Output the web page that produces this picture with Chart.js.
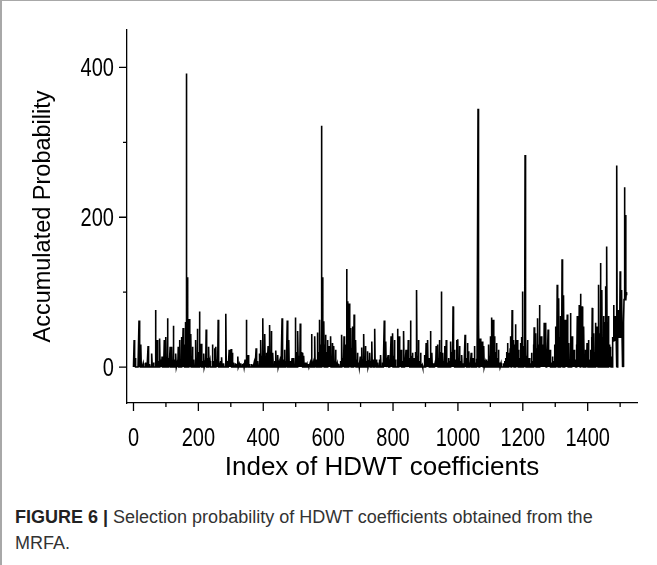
<!DOCTYPE html>
<html>
<head>
<meta charset="utf-8">
<script src="https://cdn.jsdelivr.net/npm/chart.js@4.4.1/dist/chart.umd.min.js"></script>
<style>
  html, body { margin: 0; padding: 0; background: #fff; }
  #frame {
    position: relative; width: 655px; height: 564px;
    border-left: 2px solid #a8a8a8; border-top: 1px solid #a8a8a8;
  }
  #chart { position: absolute; left: -2px; top: -1px; }
  #caption {
    position: absolute; left: 13px; top: 503px; width: 600px;
    font-family: 'Liberation Sans', Arial, sans-serif; font-size: 18px;
    line-height: 26px; color: #333;
  }
  #caption b { color: #222; }
</style>
</head>
<body>
<div id="frame">
  <canvas id="chart" width="657" height="490"></canvas>
  <div id="caption"><b>FIGURE 6 |</b> Selection probability of HDWT coefficients obtained from the MRFA.</div>
</div>
<script>
// axis ticks
const xMajor = [0, 200, 400, 600, 800, 1000, 1200, 1400];
const xMinor = [100, 300, 500, 700, 900, 1100, 1300, 1500];
const yMajor = [0, 200, 400];
const yMinor = [100, 300];

const seriesLength = 1521; // indices 0..1520, baseline 0

// spikes: coefficient index -> accumulated probability
const peakIdx = [
  2, 5, 17, 20, 23, 30, 38, 45, 50, 57, 62, 68, 73, 77, 81, 85, 88, 92, 95, 100,
  105, 109, 113, 118, 123, 127, 131, 135, 138, 143, 149, 153, 156, 160, 163, 165, 167, 170, 172, 175,
  177, 182, 186, 192, 197, 200, 203, 206, 209, 213, 217, 221, 224, 228, 232, 236,
  244, 247, 250, 254, 258, 261, 265, 268, 272, 278, 285, 290, 295, 298, 301, 305, 309, 314, 318, 322,
  326, 331, 336, 340, 344, 348, 353, 358, 365, 372, 378, 383, 389, 393, 396, 399, 402, 405, 410, 415,
  420, 423, 425, 430, 435, 439, 445, 449, 453, 458, 462, 465, 470, 474, 479, 484, 489,
  494, 499, 503, 507, 511, 514, 517, 520, 525, 530, 535, 540, 545, 549, 554, 559, 563, 567, 571, 574,
  577, 580, 582, 583, 585, 587, 590, 592, 595, 598, 600, 603, 606, 608, 611, 613, 616, 618, 621, 623,
  628, 633, 638, 642, 646, 649, 653, 657, 659, 660, 663, 665, 668, 670, 673, 675, 678, 680, 683, 685,
  688, 691, 695, 699, 704, 707, 710, 713, 715, 719, 722, 726, 729, 732, 735, 739, 744,
  748, 753, 758, 762, 767, 773, 776, 778, 782, 785, 790, 794, 797, 799, 802, 804, 808, 814, 817, 819,
  822, 825, 829, 833, 836, 840, 844, 847, 850, 854, 857, 860, 865, 870, 873, 876, 878, 882, 885, 890,
  897, 900, 902, 905, 907, 911, 915, 918, 920, 925, 930, 933, 936, 938, 941, 943, 946, 949, 952, 954,
  957, 959, 962, 964, 968, 972, 975, 978, 982, 985, 988, 990, 994, 997,
  1000, 1003, 1005, 1009, 1012, 1017, 1022, 1025, 1029, 1031, 1033, 1037, 1041, 1045, 1047, 1051, 1055, 1058, 1062, 1064,
  1066, 1069, 1072, 1075, 1077, 1080, 1084, 1088, 1092, 1095, 1098, 1100, 1102, 1104, 1107, 1109, 1111, 1113, 1116, 1119,
  1122, 1125, 1129, 1133, 1140, 1145, 1148, 1151, 1153, 1156, 1158, 1161, 1163, 1165, 1167, 1170, 1172, 1175, 1178, 1180,
  1183, 1185, 1187, 1190, 1193, 1196, 1199, 1202, 1204, 1207, 1209, 1212, 1215, 1218, 1220, 1224, 1227, 1230, 1233, 1235,
  1238, 1240, 1243, 1246, 1249, 1251,
  1254, 1257, 1260, 1263, 1266, 1269, 1271, 1274, 1278, 1281, 1284, 1288, 1292, 1296, 1299, 1301, 1303, 1306, 1308, 1311,
  1313, 1316, 1318, 1321, 1323, 1326, 1328, 1331, 1334, 1337, 1339, 1342, 1344, 1347, 1350, 1352, 1355, 1358, 1361, 1363,
  1366, 1368, 1371, 1374, 1376, 1378, 1380, 1383, 1385, 1388, 1390, 1393, 1395, 1398, 1400, 1403, 1406, 1409, 1412, 1414,
  1416, 1419, 1421, 1424, 1426, 1429, 1431, 1434, 1436, 1439, 1441, 1444, 1446, 1449, 1451, 1453, 1455, 1457, 1459, 1461,
  1464, 1466, 1469, 1471, 1474, 1477, 1480, 1482, 1485, 1487, 1490, 1492, 1494, 1496, 1498, 1500, 1502, 1505, 1507, 1509,
  1510, 1511, 1513, 1515, 1517, 1519, 1520
];
const peakVal = [
  36, 12, 62, 20, 30, 5, 6, 28, 4, 18, 6, 76, 36, 8, 38, 10, 14, 8, 36, 40,
  65, 12, 27, 27, 55, 10, 18, 6, 27, 36, 40, 52, 30, 60, 392, 120, 64, 40, 64, 30,
  44, 27, 10, 36, 51, 20, 74, 15, 31, 8, 18, 6, 50, 12, 27, 8,
  30, 8, 25, 27, 10, 63, 6, 8, 13, 5, 71, 8, 23, 15, 24, 19, 6, 5, 4, 14,
  4, 5, 4, 5, 10, 63, 16, 4, 4, 6, 25, 8, 18, 36, 15, 65, 20, 44, 19, 28,
  56, 20, 48, 19, 8, 22, 16, 6, 14, 65, 10, 23, 8, 62, 36, 8, 12,
  12, 66, 20, 48, 15, 58, 20, 19, 15, 6, 4, 4, 6, 44, 6, 41, 10, 46, 20, 63,
  30, 322, 120, 94, 50, 61, 30, 43, 20, 36, 15, 28, 12, 41, 15, 32, 10, 28, 8, 23,
  5, 4, 8, 43, 12, 41, 30, 131, 70, 88, 40, 85, 30, 52, 25, 54, 30, 70, 20, 36,
  10, 19, 6, 14, 26, 10, 44, 12, 28, 8, 21, 6, 19, 8, 34, 10, 51,
  10, 6, 10, 16, 6, 62, 15, 34, 8, 16, 10, 41, 12, 45, 15, 36, 10, 51, 15, 41,
  10, 23, 8, 48, 12, 23, 8, 36, 12, 62, 15, 19, 12, 20, 103, 15, 36, 8, 19, 3,
  16, 8, 32, 10, 36, 12, 48, 10, 19, 5, 6, 28, 10, 30, 12, 36, 20, 101, 15, 19,
  8, 28, 10, 36, 6, 12, 8, 34, 20, 81, 12, 23, 10, 36,
  37, 10, 28, 8, 16, 5, 43, 12, 32, 8, 21, 6, 19, 5, 12, 28, 6, 11, 345, 60,
  20, 38, 15, 34, 10, 28, 6, 10, 8, 30, 15, 41, 30, 66, 40, 63, 30, 41, 20, 32,
  12, 23, 6, 5, 5, 8, 12, 20, 32, 15, 19, 25, 41, 30, 76, 25, 36, 30, 57, 20,
  36, 15, 23, 12, 32, 40, 101, 20, 28, 283, 40, 15, 36, 8, 12, 5, 19, 8, 30, 53,
  20, 45, 25, 65, 30, 83,
  20, 41, 10, 30, 59, 20, 59, 15, 50, 10, 23, 6, 14, 8, 30, 54, 30, 110, 50, 92,
  40, 68, 30, 144, 60, 96, 20, 63, 15, 70, 20, 32, 10, 72, 15, 41, 8, 23, 5, 10,
  30, 68, 35, 83, 40, 98, 45, 81, 30, 54, 10, 23, 5, 32, 8, 36, 10, 23, 40, 79,
  30, 45, 20, 59, 25, 54, 30, 110, 45, 139, 50, 103, 40, 68, 35, 60, 108, 50, 161, 60,
  68, 30, 27, 10, 14, 40, 83, 45, 68, 40, 269, 50, 45, 76, 50, 128, 60, 103, 40, 5,
  0, 60, 240, 110, 203, 100, 96
];

// stretches where the trace does not fall back to zero
const floorFrom = [1478, 1492, 1511];
const floorTo = [1488, 1507, 1520];
const floorVal = [35, 40, 90];

const values = new Array(seriesLength).fill(0);
floorFrom.forEach((from, k) => {
  for (let i = from; i <= floorTo[k]; i++) values[i] = floorVal[k];
});
peakIdx.forEach((idx, k) => { values[idx] = peakVal[k]; });
const points = values.map((v, i) => ({ x: i, y: v }));

const axisFont = "'Liberation Sans', Arial, sans-serif";

// outward major/minor tick marks and narrow tick labels, Origin style
const tickMarks = {
  id: 'tickMarks',
  afterDraw(chart) {
    const ctx = chart.ctx;
    const area = chart.chartArea;
    const xs = chart.scales.x, ys = chart.scales.y;
    ctx.save();
    ctx.strokeStyle = '#000';
    ctx.lineWidth = 1.3;
    ctx.beginPath();
    xMajor.forEach(v => { const p = xs.getPixelForValue(v); ctx.moveTo(p, area.bottom); ctx.lineTo(p, area.bottom + 8); });
    xMinor.forEach(v => { const p = xs.getPixelForValue(v); ctx.moveTo(p, area.bottom); ctx.lineTo(p, area.bottom + 4); });
    yMajor.forEach(v => { const p = ys.getPixelForValue(v); ctx.moveTo(area.left, p); ctx.lineTo(area.left - 8, p); });
    yMinor.forEach(v => { const p = ys.getPixelForValue(v); ctx.moveTo(area.left, p); ctx.lineTo(area.left - 4, p); });
    ctx.stroke();

    ctx.fillStyle = '#000';
    ctx.font = '26px ' + axisFont;
    ctx.textBaseline = 'alphabetic';
    ctx.textAlign = 'center';
    xMajor.forEach(v => {
      ctx.save();
      ctx.translate(xs.getPixelForValue(v), area.bottom + 43);
      ctx.scale(0.77, 1);
      ctx.fillText(String(v), 0, 0);
      ctx.restore();
    });
    ctx.textAlign = 'right';
    yMajor.forEach(v => {
      ctx.save();
      ctx.translate(area.left - 13, ys.getPixelForValue(v) + 9);
      ctx.scale(0.77, 1);
      ctx.fillText(String(v), 0, 0);
      ctx.restore();
    });
    ctx.restore();
  }
};

new Chart(document.getElementById('chart'), {
  type: 'line',
  data: {
    datasets: [{
      data: points,
      borderColor: '#000',
      borderWidth: 1.6,
      pointRadius: 0,
      tension: 0,
      fill: false
    }]
  },
  options: {
    responsive: false,
    animation: false,
    devicePixelRatio: 1,
    parsing: false,
    plugins: { legend: { display: false }, tooltip: { enabled: false } },
    layout: { padding: { top: 30, right: 20, left: 0, bottom: 0 } },
    scales: {
      x: {
        type: 'linear',
        min: -20,
        max: 1552,
        afterBuildTicks: s => { s.ticks = xMajor.map(v => ({ value: v })); },
        afterFit: s => { s.height = 87; },
        grid: { display: false, drawTicks: false },
        border: { display: true, color: '#000', width: 1.3 },
        ticks: { display: false },
        title: {
          display: true, text: 'Index of HDWT coefficients', color: '#000',
          font: { family: axisFont, size: 26 }, padding: { top: 0, bottom: 7 }
        }
      },
      y: {
        type: 'linear',
        min: -48,
        max: 450,
        afterBuildTicks: s => { s.ticks = yMajor.map(v => ({ value: v })); },
        afterFit: s => { s.width = 127; },
        grid: { display: false, drawTicks: false },
        border: { display: true, color: '#000', width: 1.3 },
        ticks: { display: false },
        title: {
          display: true, text: 'Accumulated Probability', color: '#000',
          font: { family: axisFont, size: 23.5 }, padding: { top: 29, bottom: 0 }
        }
      }
    }
  },
  plugins: [tickMarks]
});
</script>
</body>
</html>
